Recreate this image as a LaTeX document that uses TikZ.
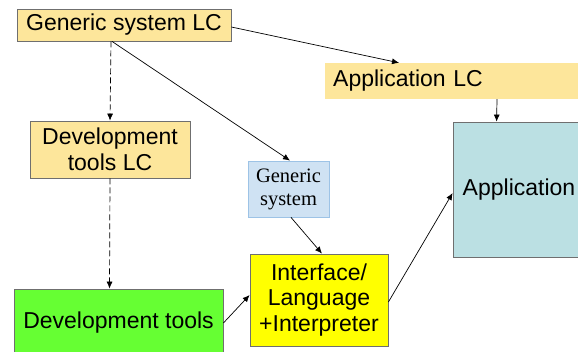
\documentclass[tikz,border=0pt]{standalone}
\usepackage{fontspec}
\setmainfont{Liberation Sans}
\newfontfamily\serifface{Liberation Serif}
\usetikzlibrary{arrows.meta,calc}
\definecolor{lcyellow}{HTML}{FDE69B}
\definecolor{gsblue}{HTML}{CFE2F3}
\definecolor{gsborder}{HTML}{9DC3E6}
\definecolor{appteal}{HTML}{BBE0E3}
\definecolor{devgreen}{HTML}{66FF33}
\definecolor{ifyellow}{HTML}{FFFF00}
\definecolor{boxborder}{HTML}{6F6F6F}
\tikzset{
  sansbig/.style={font=\fontsize{23}{26}\selectfont},
  boxstyle/.style={draw=boxborder, line width=0.8pt, inner sep=0pt, align=center, sansbig},
  arr/.style={-{Latex[length=7pt,width=6pt]}, line width=0.7pt, draw=black},
  dasharr/.style={arr, dash pattern=on 6pt off 3pt},
}
\begin{document}
\begin{tikzpicture}[x=1pt,y=-1pt]
\useasboundingbox (0,0) rectangle (578,351);
\clip (0,0) rectangle (578,351);
\node[boxstyle, fill=lcyellow, minimum width=214pt, minimum height=32pt] (gslc) at (124,25) {Generic system LC};
\node[fill=lcyellow, sansbig, anchor=west, minimum height=36pt, text width=249pt, inner xsep=8pt, inner ysep=0pt, align=left] (applc) at (325,81) {Application LC};
\node[boxstyle, fill=lcyellow, minimum width=160pt, minimum height=57pt] (dtlc) at (110,149.5) {Development\\tools LC};
\node[draw=gsborder, line width=0.8pt, fill=gsblue, inner sep=0pt, align=center, minimum width=81pt, minimum height=56pt, font=\serifface\fontsize{20.5}{23}\selectfont] (gs) at (288.5,189) {Generic\\system};
\node[boxstyle, fill=appteal, minimum width=132pt, minimum height=135pt] (app) at (519,189.5) {Application};
\node[boxstyle, fill=ifyellow, minimum width=138pt, minimum height=92pt, font=\fontsize{23}{25.5}\selectfont] (if) at (319,300) {Interface/\\Language\\+Interpreter};
\node[boxstyle, fill=devgreen, minimum width=209pt, minimum height=68pt] (dt) at (118.5,323) {Development tools};
\draw[dasharr] ([xshift=-13pt]gslc.south) -- (dtlc.north);
\draw[dasharr] (dtlc.south) -- ([xshift=-9pt]dt.north);
\draw[arr] ([yshift=-2pt]gslc.east) -- ([xshift=74pt]applc.north west);
\draw[arr] ([xshift=-12pt]gslc.south) -- ([xshift=1.5pt]gs.north);
\draw[arr] ([xshift=2.5pt]gs.south) -- ([xshift=3pt]if.north);
\draw[arr] (dt.east) -- ([yshift=5pt]if.west);
\draw[arr] ([yshift=-2pt]if.east) -- ([yshift=-3.5pt]app.west);
\draw[arr] ([xshift=172pt]applc.south west) -- ([xshift=44pt]app.north west);
\end{tikzpicture}
\end{document}
